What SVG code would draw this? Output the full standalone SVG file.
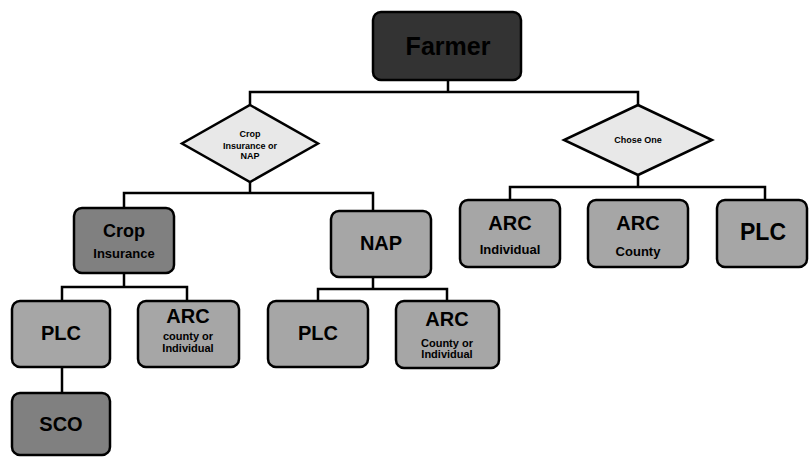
<svg xmlns="http://www.w3.org/2000/svg" width="809" height="457" viewBox="0 0 809 457">
<style>
.box{stroke:#000;stroke-width:2.5}
.dark{fill:#333333}
.mid{fill:#808080}
.light{fill:#a6a6a6}
.dia{fill:#e8e8e8;stroke:#000;stroke-width:2.5}
.t{font-family:"Liberation Sans",Arial,sans-serif;font-weight:bold;text-anchor:middle;fill:#000}
.c{fill:none;stroke:#000;stroke-width:2.5}
</style>
<rect width="809" height="457" fill="#fff"/>
<g id="connectors">
<polyline class="c" points="448,80 448,92"/>
<polyline class="c" points="250,105 250,92 638,92 638,105"/>
<polyline class="c" points="250,182 250,193"/>
<polyline class="c" points="124,208 124,193 373,193 373,211"/>
<polyline class="c" points="124,273 124,287"/>
<polyline class="c" points="62,301 62,287 187,287 187,301"/>
<polyline class="c" points="373,277 373,289"/>
<polyline class="c" points="318,301 318,289 447,289 447,301"/>
<polyline class="c" points="62,367 62,393"/>
<polyline class="c" points="638,175 638,187"/>
<polyline class="c" points="510,200 510,187 765,187 765,200"/>
</g>
<g id="farmer">
<rect class="box dark" x="373" y="12" width="148" height="68" rx="8"/>
<text class="t" x="448" y="55" font-size="25">Farmer</text>
</g>
<g id="decision-crop-nap">
<polygon class="dia" points="250,105 318,143.5 250,182 182,143.5"/>
<text class="t" x="250" y="137" font-size="9">Crop</text>
<text class="t" x="250" y="148.5" font-size="9">Insurance or</text>
<text class="t" x="250" y="159" font-size="9">NAP</text>
</g>
<g id="decision-chose-one">
<polygon class="dia" points="638,105 712,140 638,175 564,140"/>
<text class="t" x="638" y="143" font-size="9">Chose One</text>
</g>
<g id="crop-insurance">
<rect class="box mid" x="74" y="208" width="100" height="65" rx="8"/>
<text class="t" x="124" y="237" font-size="18">Crop</text>
<text class="t" x="124" y="258" font-size="13">Insurance</text>
</g>
<g id="nap">
<rect class="box light" x="331" y="211" width="100" height="66" rx="8"/>
<text class="t" x="381" y="250" font-size="20">NAP</text>
</g>
<g id="plc-left">
<rect class="box light" x="12" y="301" width="98" height="66" rx="8"/>
<text class="t" x="61" y="340" font-size="20">PLC</text>
</g>
<g id="arc-left">
<rect class="box light" x="138" y="301" width="101" height="66" rx="8"/>
<text class="t" x="188" y="323" font-size="20">ARC</text>
<text class="t" x="188" y="340" font-size="11">county or</text>
<text class="t" x="188" y="352" font-size="11">Individual</text>
</g>
<g id="plc-nap">
<rect class="box light" x="268" y="301" width="100" height="66" rx="8"/>
<text class="t" x="318" y="340" font-size="20">PLC</text>
</g>
<g id="arc-nap">
<rect class="box light" x="396" y="301" width="103" height="67" rx="8"/>
<text class="t" x="447" y="326" font-size="20">ARC</text>
<text class="t" x="447" y="347" font-size="11">County or</text>
<text class="t" x="447" y="358" font-size="11">Individual</text>
</g>
<g id="sco">
<rect class="box mid" x="12" y="393" width="98" height="62" rx="8"/>
<text class="t" x="61" y="431" font-size="20">SCO</text>
</g>
<g id="arc-individual">
<rect class="box light" x="460" y="200" width="100" height="67" rx="8"/>
<text class="t" x="510" y="230" font-size="20">ARC</text>
<text class="t" x="510" y="254" font-size="13">Individual</text>
</g>
<g id="arc-county">
<rect class="box light" x="588" y="200" width="100" height="67" rx="8"/>
<text class="t" x="638" y="230" font-size="20">ARC</text>
<text class="t" x="638" y="256" font-size="13">County</text>
</g>
<g id="plc-right">
<rect class="box light" x="717" y="200" width="90" height="67" rx="8"/>
<text class="t" x="763" y="240" font-size="23">PLC</text>
</g>
</svg>
